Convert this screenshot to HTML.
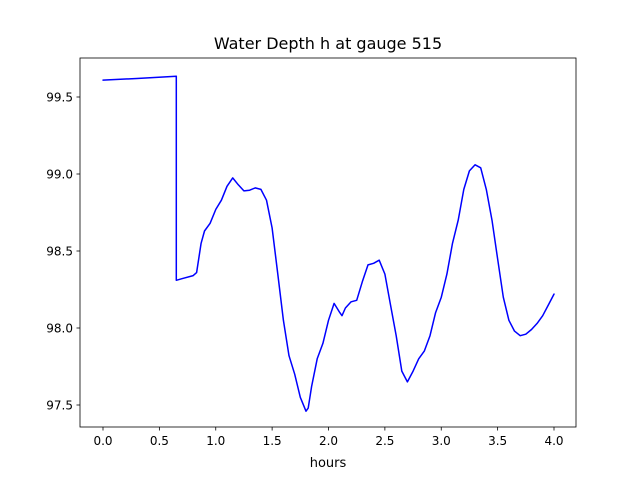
<!DOCTYPE html>
<html><head><meta charset="utf-8"><style>body{margin:0;background:#fff}svg{display:block;font-family:"DejaVu Sans","Liberation Sans",sans-serif}</style></head>
<body>
<svg id="chart" width="640" height="480" viewBox="0 0 640 480">
<rect width="640" height="480" fill="#fff"/>
<text x="328" y="49" text-anchor="middle" font-size="16">Water Depth h at gauge 515</text>
<g id="xticks"></g><g id="yticks"></g>
<polyline id="line" fill="none" stroke="#0000ff" stroke-width="1.5" stroke-linejoin="round" stroke-linecap="round"/>
<rect x="80" y="58" width="496" height="369" fill="none" stroke="#000" stroke-width="0.8"/>
<text x="328" y="467" text-anchor="middle" font-size="13">hours</text>
</svg>
<script>
const hours=[0,0.3,0.65,0.65,0.7,0.8,0.83,0.87,0.9,0.95,1.0,1.05,1.1,1.15,1.2,1.25,1.3,1.35,1.4,1.45,1.5,1.55,1.6,1.65,1.7,1.75,1.8,1.82,1.85,1.9,1.95,2.0,2.05,2.1,2.12,2.15,2.2,2.25,2.3,2.35,2.4,2.45,2.5,2.55,2.6,2.65,2.7,2.75,2.8,2.85,2.9,2.95,3.0,3.05,3.1,3.15,3.2,3.25,3.3,3.35,3.4,3.45,3.5,3.55,3.6,3.65,3.7,3.75,3.8,3.85,3.9,3.95,4.0];
const depth=[99.61,99.62,99.635,98.31,98.32,98.34,98.36,98.55,98.63,98.68,98.77,98.83,98.92,98.975,98.93,98.89,98.895,98.91,98.9,98.83,98.65,98.35,98.05,97.82,97.7,97.55,97.46,97.48,97.62,97.8,97.9,98.05,98.16,98.1,98.08,98.13,98.17,98.18,98.3,98.41,98.42,98.44,98.35,98.15,97.95,97.72,97.65,97.72,97.8,97.85,97.95,98.1,98.2,98.35,98.55,98.7,98.9,99.02,99.06,99.04,98.9,98.7,98.45,98.2,98.05,97.98,97.95,97.96,97.99,98.03,98.08,98.15,98.22];
const xTicks=["0.0","0.5","1.0","1.5","2.0","2.5","3.0","3.5","4.0"];
const yTicks=["97.5","98.0","98.5","99.0","99.5"];
const X=v=>103+v*112.75, Y=v=>97-(v-99.5)*154;
const ns="http://www.w3.org/2000/svg";
document.getElementById('line').setAttribute('points',hours.map((h,i)=>X(h).toFixed(1)+','+Y(depth[i]).toFixed(1)).join(' '));
const xg=document.getElementById('xticks'),yg=document.getElementById('yticks');
xTicks.forEach(t=>{const x=X(parseFloat(t));
const l=document.createElementNS(ns,'line');l.setAttribute('x1',x);l.setAttribute('x2',x);l.setAttribute('y1',427);l.setAttribute('y2',430.5);l.setAttribute('stroke','#000');l.setAttribute('stroke-width','0.8');

xg.appendChild(l);
const s=document.createElementNS(ns,'text');s.setAttribute('x',x);s.setAttribute('y',445);s.setAttribute('text-anchor','middle');s.setAttribute('font-size','12');s.textContent=t;

xg.appendChild(s);});
yTicks.forEach(t=>{const y=Y(parseFloat(t));
const l=document.createElementNS(ns,'line');l.setAttribute('x1',76.5);l.setAttribute('x2',80);l.setAttribute('y1',y);l.setAttribute('y2',y);l.setAttribute('stroke','#000');l.setAttribute('stroke-width','0.8');

yg.appendChild(l);
const s=document.createElementNS(ns,'text');s.setAttribute('x',73);s.setAttribute('y',y+4.5);s.setAttribute('text-anchor','end');s.setAttribute('font-size','12');s.textContent=t;

yg.appendChild(s);});
</script>
</body></html>
